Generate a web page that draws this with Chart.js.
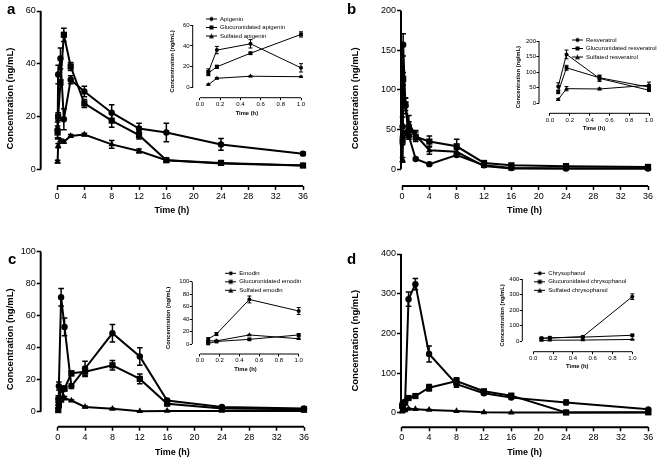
<!DOCTYPE html>
<html>
<head>
<meta charset="utf-8">
<script src="https://cdn.jsdelivr.net/npm/chart.js@4.4.1/dist/chart.umd.min.js"></script>
<style>
html, body { margin: 0; padding: 0; background: #fff; }
#fig { position: relative; width: 661px; height: 462px; overflow: hidden; background: #fff; }
#fig canvas { position: absolute; }
.tag { position: absolute; font: bold 15px 'Liberation Sans', Arial, sans-serif; line-height: 15px; color: #000; }
</style>
</head>
<body>
<div id="fig">
  <canvas id="mainA" width="330" height="231" style="left:0;top:0"></canvas>
  <canvas id="mainB" width="331" height="231" style="left:330px;top:0"></canvas>
  <canvas id="mainC" width="330" height="231" style="left:0;top:231px"></canvas>
  <canvas id="mainD" width="331" height="231" style="left:330px;top:231px"></canvas>
  <canvas id="insetA" width="150" height="112" style="left:160px;top:10px"></canvas>
  <canvas id="insetB" width="161" height="108" style="left:500px;top:30px"></canvas>
  <canvas id="insetC" width="150" height="114" style="left:160px;top:262px"></canvas>
  <canvas id="insetD" width="160" height="112" style="left:490px;top:262px"></canvas>
  <div class="tag" style="left:7px;top:1px">a</div>
  <div class="tag" style="left:347px;top:1px">b</div>
  <div class="tag" style="left:8px;top:251px">c</div>
  <div class="tag" style="left:347px;top:251px">d</div>
</div>
<script>
// sampling times (h)
const times = [0.083, 0.167, 0.5, 1, 2, 4, 8, 12, 16, 24, 36];
const mainXTicks = [0, 4, 8, 12, 16, 20, 24, 28, 32, 36];
const insetXTicks = [0, 0.2, 0.4, 0.6, 0.8, 1.0];

// a - apigenin
const apigenin = [15, 36, 42, 19, 34, 29.5, 21.5, 15.5, 14, 9.5, 6];
const apigeninErr = [3, 3.5, 4, 4, 1.5, 2, 3, 2, 3.5, 2.2, 0.5];
const glucApigenin = [14, 20, 33, 51, 39, 25, 18.5, 13, 3.5, 2.5, 1.5];
const glucApigeninErr = [2.5, 1.5, 1, 2.5, 1.5, 1.5, 2.5, 1.5, 0.7, 0.5, 0.3];
const sulfApigenin = [3, 9, 11, 10.5, 12.7, 13.2, 9.5, 7, 3.5, 2.3, 1.5];
const sulfApigeninErr = [0.5, 0.8, 0.5, 0.5, 0.5, 0.5, 1.5, 0.8, 0.5, 0.3, 0.2];
const yTicksA = [0, 20, 40, 60];

// b - resveratrol
const resveratrol = [54, 157, 80, 42, 13, 6.5, 18, 5, 1.5, 1, 1];
const resveratrolErr = [12, 14, 10, 4, 1.5, 1, 2, 1, 0.5, 0.5, 0.5];
const glucResveratrol = [36, 114, 82, 52, 41, 35, 29, 8, 5, 4, 3];
const glucResveratrolErr = [5, 8, 8, 8, 6, 7, 9, 2, 1, 1, 0.5];
const sulfResveratrol = [12, 47, 46, 58, 43, 24, 22, 4, 1, 1, 1];
const sulfResveratrolErr = [3, 7, 3, 10, 6, 5, 3, 1, 0.5, 0.5, 0.5];
const yTicksB = [0, 50, 100, 150, 200];

// c - emodin
const emodin = [8, 16, 71.5, 53, 16, 27, 49, 34.5, 7, 3, 2];
const emodinErr = [2, 2.5, 5.5, 5.5, 1.5, 4.5, 5.5, 5.5, 1, 0.5, 0.3];
const glucEmodin = [1, 4, 7.5, 14.5, 24, 25, 29, 20.5, 5, 2, 1.5];
const glucEmodinErr = [1, 0.8, 1, 1.5, 1.5, 3, 3, 3, 1, 0.5, 0.3];
const sulfEmodin = [5, 5, 14.5, 8.5, 7, 3, 1.8, 0.3, 0.5, 0.5, 0.5];
const sulfEmodinErr = [1, 1, 1, 1, 0.5, 0.5, 0.3, 0.2, 0.2, 0.2, 0.2];
const yTicksC = [0, 20, 40, 60, 80, 100];

// d - chrysophanol
const chrysophanol = [17, 19, 28, 286, 324, 148, 72, 49, 38, 26, 8.5];
const chrysophanolErr = [3, 3, 3, 18, 14, 20, 8, 4, 3, 6, 1];
const glucChrysophanol = [17, 21, 25, 37, 42, 63, 80, 54, 43, 0.5, 1];
const glucChrysophanolErr = [2, 2, 2, 3, 3, 8, 8, 4, 3, 0.5, 0.5];
const sulfChrysophanol = [3, 5, 6, 10, 9, 7, 4, 1, 0.5, 0.5, 0.5];
const sulfChrysophanolErr = [0.5, 0.5, 0.5, 1, 1, 1, 0.5, 0.3, 0.3, 0.3, 0.3];
const yTicksD = [0, 100, 200, 300, 400];

const FONT = "'Liberation Sans', Arial, sans-serif";
Chart.defaults.font.family = FONT;
Chart.defaults.color = '#000';

// GraphPad style detached axes: lines only from 0 to the last tick
const axisLines = {
  id: 'axisLines',
  afterDraw(chart, args, o) {
    const { ctx, chartArea, scales: { x, y } } = chart;
    ctx.save();
    ctx.strokeStyle = '#000';
    ctx.lineWidth = o.width;
    ctx.beginPath();
    ctx.moveTo(chartArea.left, y.getPixelForValue(0));
    ctx.lineTo(chartArea.left, y.getPixelForValue(y.max));
    ctx.moveTo(x.getPixelForValue(0), chartArea.bottom);
    ctx.lineTo(x.getPixelForValue(x.max), chartArea.bottom);
    ctx.stroke();
    ctx.restore();
  }
};

// mean +/- SEM bars with caps
const errorBars = {
  id: 'errorBars',
  beforeDatasetsDraw(chart, args, o) {
    const { ctx, scales: { x, y } } = chart;
    ctx.save();
    ctx.strokeStyle = '#000';
    ctx.lineWidth = o.width;
    chart.data.datasets.forEach(ds => {
      (ds.errors || []).forEach((e, i) => {
        const p = ds.data[i];
        const px = x.getPixelForValue(p.x);
        const hi = y.getPixelForValue(p.y + e);
        const lo = y.getPixelForValue(p.y - e);
        ctx.beginPath();
        ctx.moveTo(px, hi); ctx.lineTo(px, lo);
        ctx.moveTo(px - o.cap, hi); ctx.lineTo(px + o.cap, hi);
        ctx.moveTo(px - o.cap, lo); ctx.lineTo(px + o.cap, lo);
        ctx.stroke();
      });
    });
    ctx.restore();
  }
};

// move the legend box to a fixed spot
const legendPos = {
  id: 'legendPos',
  afterLayout(chart, args, o) {
    const lg = chart.legend;
    if (!lg || o.x === undefined) return;
    const pad = lg.options.labels.padding;
    lg.left = o.x - pad;
    lg.top = o.y - pad;
    lg.right = lg.left + 200;
    lg.bottom = lg.top + 100;
  }
};

// small "line + marker" icon for the legend
function legendIcon(style) {
  const c = document.createElement('canvas');
  c.width = 11; c.height = 7;
  const g = c.getContext('2d');
  g.fillStyle = '#000'; g.strokeStyle = '#000'; g.lineWidth = 1;
  g.beginPath(); g.moveTo(0, 3.5); g.lineTo(11, 3.5); g.stroke();
  g.beginPath();
  if (style === 'circle') g.arc(5.5, 3.5, 2, 0, Math.PI * 2);
  else if (style === 'rect') g.rect(3.5, 1.5, 4, 4);
  else { g.moveTo(5.5, 1); g.lineTo(8, 5.8); g.lineTo(3, 5.8); g.closePath(); }
  g.fill();
  return c;
}

function buildSeries(names, values, errors, n, big) {
  const styles = ['circle', 'rect', 'triangle'];
  const radii = big ? [3.2, 4.4, 3.8] : [2, 2.7, 2.6];
  return names.map((name, k) => ({
    label: name,
    data: times.slice(0, n).map((t, i) => ({ x: t, y: values[k][i] })),
    errors: errors[k].slice(0, n),
    pointStyle: styles[k],
    pointRadius: radii[k],
    pointBorderWidth: 0,
    pointBackgroundColor: '#000',
    borderColor: '#000',
    backgroundColor: '#000',
    borderWidth: big ? 2 : 1,
    tension: 0,
    clip: false,
    fill: false
  }));
}

function drawChart(id, o) {
  const big = o.big;
  return new Chart(document.getElementById(id), {
    type: 'line',
    data: { datasets: o.datasets },
    options: {
      responsive: false,
      animation: false,
      events: [],
      layout: { padding: { left: 0, top: o.top, right: o.right, bottom: 0 } },
      plugins: {
        tooltip: { enabled: false },
        legend: o.legend ? {
          display: true,
          position: 'chartArea',
          align: 'start',
          labels: {
            usePointStyle: true,
            pointStyleWidth: 11,
            padding: 2.5,
            color: '#000',
            font: { size: 6 },
            generateLabels: chart => chart.data.datasets.map((d, i) => ({
              text: d.label, pointStyle: legendIcon(d.pointStyle),
              fillStyle: '#000', strokeStyle: '#000', lineWidth: 0, hidden: false, datasetIndex: i
            }))
          }
        } : { display: false },
        legendPos: o.legend || {},
        axisLines: { width: big ? 2 : 1 },
        errorBars: { width: big ? 1.5 : 1, cap: big ? 2.8 : 2 }
      },
      scales: {
        x: {
          type: 'linear',
          min: o.xMin,
          max: o.xMax,
          afterBuildTicks: s => { s.ticks = o.xTicks.map(v => ({ value: v })); },
          afterFit: s => { s.height = o.xH; },
          border: { display: false },
          grid: { drawOnChartArea: false, drawTicks: true, tickLength: big ? 4 : 2.5, tickWidth: big ? 1.5 : 1, tickColor: '#000' },
          ticks: {
            color: '#000', padding: big ? 1 : 0.5, maxRotation: 0, autoSkip: false,
            font: { size: big ? 9 : 6 },
            callback: v => big ? String(v) : v.toFixed(1)
          },
          title: {
            display: true, text: 'Time (h)', color: '#000',
            font: { size: big ? 9 : 5.8, weight: 'bold' },
            padding: { top: 0, bottom: o.xTitlePad }
          }
        },
        y: {
          type: 'linear',
          min: o.yMin,
          max: o.yMax,
          afterBuildTicks: s => { s.ticks = o.yTicks.map(v => ({ value: v })); },
          afterFit: s => { s.width = o.yW; },
          border: { display: false },
          grid: { drawOnChartArea: false, drawTicks: true, tickLength: big ? 4 : 2.5, tickWidth: big ? 1.5 : 1, tickColor: '#000' },
          ticks: { color: '#000', padding: big ? 1 : 0.5, font: { size: big ? 9 : 6 } },
          title: {
            display: true, text: 'Concentration (ng/mL)', color: '#000',
            font: { size: big ? 9.5 : 5.8, weight: 'bold' },
            padding: { top: o.yTitlePad, bottom: 0 }
          }
        }
      }
    },
    plugins: [axisLines, errorBars, legendPos]
  });
}

const panels = [
  {
    names: ['Apigenin', 'Glucuronidated apigenin', 'Sulfated apigenin'],
    values: [apigenin, glucApigenin, sulfApigenin],
    errors: [apigeninErr, glucApigeninErr, sulfApigeninErr],
    yTicks: yTicksA,
    main: { id: 'mainA', top: 11, right: 27, yW: 40.7, xH: 45, yMin: -6.25, xMin: -2.39, xTitlePad: 14.6, yTitlePad: 4.3 },
    inset: { id: 'insetA', top: 15, right: 9, yW: 32.7, xH: 24.3, yMin: -9.57, xMin: -0.072, xTitlePad: 5.1, yTitlePad: 9.1, legend: { x: 46, y: 6 } }
  },
  {
    names: ['Resveratrol', 'Glucuronidated resveratrol', 'Sulfated resveratrol'],
    values: [resveratrol, glucResveratrol, sulfResveratrol],
    errors: [resveratrolErr, glucResveratrolErr, sulfResveratrolErr],
    yTicks: yTicksB,
    main: { id: 'mainB', top: 10.7, right: 13, yW: 71, xH: 45, yMin: -21.06, xMin: -0.15, xTitlePad: 14.9, yTitlePad: 19.3 },
    inset: { id: 'insetB', top: 11, right: 12, yW: 39, xH: 24.7, yMin: -32.1, xMin: -0.111, xTitlePad: 6.1, yTitlePad: 15.4, legend: { x: 72, y: 7 } }
  },
  {
    names: ['Emodin', 'Glucuronidated emodin', 'Sulfated emodin'],
    values: [emodin, glucEmodin, sulfEmodin],
    errors: [emodinErr, glucEmodinErr, sulfEmodinErr],
    yTicks: yTicksC,
    main: { id: 'mainC', top: 20.7, right: 26, yW: 40.7, xH: 35.3, yMin: -9.375, xMin: -2.485, xTitlePad: 4.3, yTitlePad: 4.3 },
    inset: { id: 'insetC', top: 19.7, right: 11.3, yW: 32.3, xH: 22, yMin: -16.05, xMin: -0.078, xTitlePad: 3.1, yTitlePad: 4.7, legend: { x: 65.3, y: 8.3 } }
  },
  {
    names: ['Chrysophanol', 'Glucuronidated chrysophanol', 'Sulfated chrysophanol'],
    values: [chrysophanol, glucChrysophanol, sulfChrysophanol],
    errors: [chrysophanolErr, glucChrysophanolErr, sulfChrysophanolErr],
    yTicks: yTicksD,
    main: { id: 'mainD', top: 23, right: 12.7, yW: 71, xH: 34.7, yMin: -36.8, xMin: -0.1, xTitlePad: 3.9, yTitlePad: 19.3 },
    inset: { id: 'insetD', top: 17, right: 17.7, yW: 32.3, xH: 22.3, yMin: -69, xMin: -0.111, xTitlePad: 3.7, yTitlePad: 9.1, legend: { x: 44.3, y: 8.3 } }
  }
];

panels.forEach(p => {
  const yMax = p.yTicks[p.yTicks.length - 1];
  drawChart(p.main.id, Object.assign({}, p.main, {
    big: true,
    datasets: buildSeries(p.names, p.values, p.errors, times.length, true),
    xMax: 36, xTicks: mainXTicks, yMax: yMax, yTicks: p.yTicks
  }));
  drawChart(p.inset.id, Object.assign({}, p.inset, {
    big: false,
    datasets: buildSeries(p.names, p.values, p.errors, 4, false),
    xMax: 1, xTicks: insetXTicks, yMax: yMax, yTicks: p.yTicks
  }));
});
</script>
</body>
</html>
